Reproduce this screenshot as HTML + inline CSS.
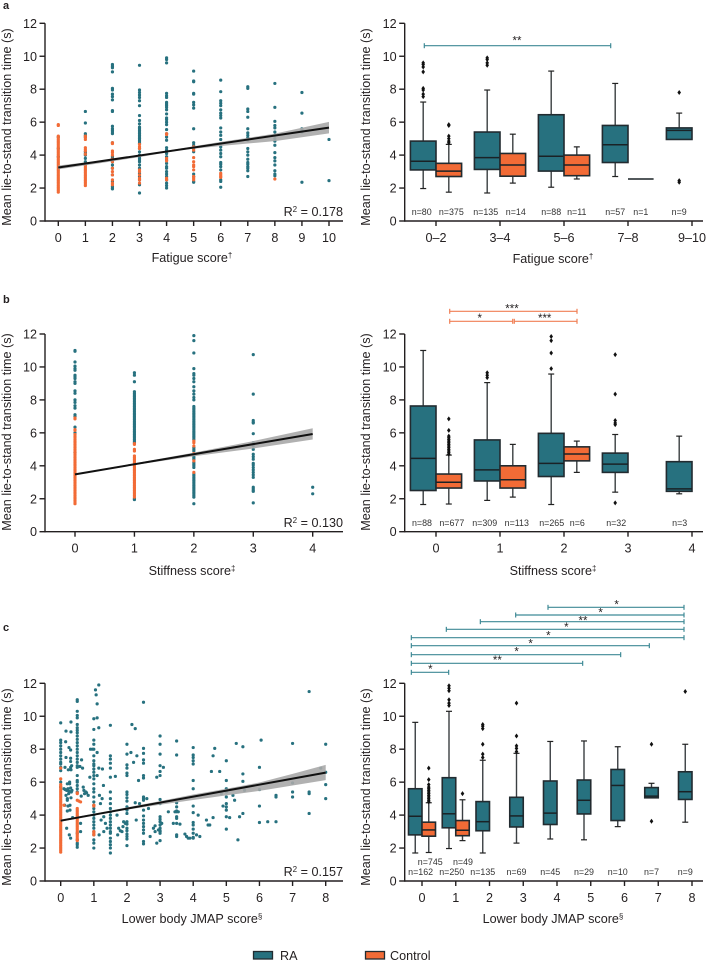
<!DOCTYPE html>
<html lang="en">
<head>
<meta charset="utf-8">
<title>Lie-to-stand transition time charts</title>
<style>
html,body{margin:0;padding:0;background:#fff;}
svg{display:block;}
text{font-family:"Liberation Sans",Arial,sans-serif;fill:#231f20;}
.tick{font-size:12.6px;}
.title{font-size:12.6px;}
.nlab{font-size:8.9px;fill:#333;}
.star{font-size:11.5px;}
.letter{font-size:11px;font-weight:bold;}
</style>
</head>
<body>
<svg id="chart" width="706" height="961" viewBox="0 0 706 961" xmlns="http://www.w3.org/2000/svg">
  <text class="letter" x="3" y="9">a</text>
  <text class="letter" x="3" y="303">b</text>
  <text class="letter" x="3" y="631">c</text>

  <text class="title" text-anchor="middle" transform="translate(11,127) rotate(-90)">Mean lie-to-stand transition time (s)</text>
  <text class="title" text-anchor="middle" transform="translate(370,127) rotate(-90)">Mean lie-to-stand transition time (s)</text>
  <text class="title" text-anchor="middle" transform="translate(11,432) rotate(-90)">Mean lie-to-stand transition time (s)</text>
  <text class="title" text-anchor="middle" transform="translate(370,432) rotate(-90)">Mean lie-to-stand transition time (s)</text>
  <text class="title" text-anchor="middle" transform="translate(11,787) rotate(-90)">Mean lie-to-stand transition time (s)</text>
  <text class="title" text-anchor="middle" transform="translate(370,787) rotate(-90)">Mean lie-to-stand transition time (s)</text>

  <text class="title" text-anchor="middle" x="192" y="262">Fatigue score<tspan font-size="8" dy="-4">†</tspan></text>
  <text class="title" text-anchor="middle" x="553" y="263">Fatigue score<tspan font-size="8" dy="-4">†</tspan></text>
  <text class="title" text-anchor="middle" x="192" y="575">Stiffness score<tspan font-size="8" dy="-4">‡</tspan></text>
  <text class="title" text-anchor="middle" x="553" y="575">Stiffness score<tspan font-size="8" dy="-4">‡</tspan></text>
  <text class="title" text-anchor="middle" x="192" y="923">Lower body JMAP score<tspan font-size="8" dy="-4">§</tspan></text>
  <text class="title" text-anchor="middle" x="553" y="923">Lower body JMAP score<tspan font-size="8" dy="-4">§</tspan></text>

  <text class="tick" text-anchor="end" x="343" y="216">R<tspan font-size="8" dy="-4">2</tspan><tspan dy="4"> = 0.178</tspan></text>
  <text class="tick" text-anchor="end" x="343" y="527">R<tspan font-size="8" dy="-4">2</tspan><tspan dy="4"> = 0.130</tspan></text>
  <text class="tick" text-anchor="end" x="343" y="876">R<tspan font-size="8" dy="-4">2</tspan><tspan dy="4"> = 0.157</tspan></text>

  <g>
    <rect x="253.5" y="951.5" width="19" height="7.5" fill="#27717f" stroke="#222b30" stroke-width="1.3"/>
    <text class="tick" x="280" y="960">RA</text>
    <rect x="365.5" y="951.5" width="19" height="7.5" fill="#f26b36" stroke="#222b30" stroke-width="1.3"/>
    <text class="tick" x="390" y="960">Control</text>
  </g>
</svg>
<script>
// ---------- Panel a: scatter ----------
const aScores = [0,1,2,3,4,5,6,7,8,9,10];
const aScatterRA = [
  [5.1,4.4,3.9],
  [6.65,5.95,5.3,5.2,5.1,4.2,4.1,4.0,3.8,3.6,3.4],
  [9.5,9.4,9.3,9.05,8.05,7.95,7.7,7.55,7.35,6.7,6.65,5.75,5.6,5.5,5.4,5.3,4.75,3.9,3.8,3.6,3.4,3.2,2.8,2.4,2.1,2.0,1.95],
  [9.45,7.95,7.8,7.65,7.5,7.3,7.0,6.4,6.1,5.9,5.7,5.6,5.5,5.4,5.3,5.2,5.1,5.0,4.9,4.8,4.7,4.4,4.2,4.0,3.9,3.8,3.7,3.6,3.4,3.2,2.9,2.7,2.5,2.2,1.7],
  [9.9,9.8,9.6,7.75,7.6,7.5,7.2,7.1,7.0,6.9,6.75,6.5,6.25,6.15,6.0,5.85,5.55,5.3,5.1,4.9,4.45,4.3,4.1,3.9,3.7,3.5,3.3,3.2,3.0,2.85,2.7,2.5,2.3,2.15,2.0],
  [9.1,8.5,8.45,7.75,7.7,7.2,7.05,6.85,5.6,4.75,4.6,4.4,4.2,2.85,2.7,2.4,2.35],
  [8.55,7.85,7.3,7.15,7.0,6.75,6.55,6.4,6.25,5.65,5.4,5.2,4.95,4.7,4.5,4.3,4.1,3.9,3.55,3.45,3.3,3.1,2.5,2.4,2.05],
  [8.15,8.05,6.8,6.65,6.3,5.6,5.35,5.2,5.05,4.9,4.4,4.2,4.0,3.75,3.55,3.45,3.3,3.2,3.05,2.7],
  [8.35,6.9,6.05,5.8,5.65,5.4,5.2,5.0,4.85,4.6,4.15,3.85,3.65,3.4,3.05,2.85,2.75],
  [7.8,6.55,5.6,5.5,5.4,2.35],
  [4.95,2.45]
];
const aScatterControl = [
  [5.85,5.8,5.15,5.05,4.95,4.85,4.75,4.65,4.55,4.45,4.35,4.25,4.15,4.05,3.95,3.85,3.75,3.65,3.55,3.45,3.35,3.25,3.15,3.05,2.95,2.85,2.75,2.65,2.55,2.45,2.35,2.25,2.15,2.05,1.95,1.85,1.75],
  [5.15,5.05,4.95,4.45,4.35,4.25,4.05,3.35,3.25,3.15,3.05,2.95,2.85,2.75,2.65,2.55,2.45,2.35,2.25,2.15],
  [4.75,4.7,4.25,4.15,4.0,3.75,3.6,3.2,3.0,2.8,2.5,2.3,2.2],
  [4.65,4.5,4.4,3.1,3.0,2.8,2.6,2.5,2.3],
  [5.3,5.25,3.8,3.65,2.6,2.5],
  [4.5,4.3,3.85,3.6,3.4,3.3,3.1,2.7,2.6,2.5],
  [2.9,2.8,2.7,2.65],
  [],
  [2.55],
  [],
  []
];
const aFitX = [0,10];
const aFitY = [3.25,5.67];
const aBandX = [0,1.5,3,4.5,6,8,10];
const aBandLow = [3.13,3.5,3.88,4.3,4.55,4.85,5.32];
const aBandHigh = [3.37,3.65,3.98,4.4,4.8,5.3,6.02];

// ---------- Panel a: box plot ----------
const aGroups = ['0–2','3–4','5–6','7–8','9–10'];
const aBoxRA = [[1.97,3.1,3.63,4.85,7.22],[1.7,3.13,3.85,5.4,7.95],[2.05,3.03,3.93,6.45,9.1],[2.7,3.55,4.63,5.8,8.35],[4.95,4.95,5.5,5.65,6.55]];
const aBoxRAOut = [[7.55,7.7,7.95,8.05,9.05,9.35,9.5,9.6],[9.45,9.6,9.8,9.9],[],[],[7.8,2.45,2.35]];
const aBoxControl = [[1.75,2.7,3.03,3.5,4.65],[2.3,2.72,3.4,4.1,5.27],[2.55,2.75,3.4,4.0,4.5],[2.55,2.55,2.55,2.55,2.55],null];
const aBoxControlOut = [[4.75,4.85,5.0,5.15,5.8,5.85],[],[],[],[]];
const aCountsRA = ['n=80','n=135','n=88','n=57','n=9'];
const aCountsControl = ['n=375','n=14','n=11','n=1',''];

// ---------- Panel b: scatter ----------
const bScores = [0,1,2,3,4];
const bScatterRA = [
  [11,10.95,10.3,10.05,9.9,9.8,9.5,9.4,9.3,9.1,9.0,8.55,8.4,8.0,7.85,7.65,7.5,7.1,7.0,6.35,6.0,4.8],
  [9.65,9.5,9.1,8.5,8.4,8.3,8.2,8.1,8.0,7.9,7.8,7.7,7.6,7.5,7.4,7.3,7.2,7.1,7.0,6.9,6.8,6.7,6.6,6.5,6.4,6.3,6.2,6.1,6.0,5.9,5.8,5.7,5.6,5.5,5.4,2.0,1.95],
  [11.9,11.6,10.85,9.9,9.6,9.5,9.3,9.1,8.8,8.55,8.35,8.15,8.0,7.6,7.5,7.4,7.3,7.2,7.1,7.0,6.9,6.8,6.7,6.6,6.5,6.4,6.3,6.2,6.1,6.0,5.9,5.8,5.7,5.6,5.1,5.0,4.9,4.6,4.5,4.4,4.2,4.1,4.0,3.9,3.5,3.4,3.3,3.2,3.1,3.0,2.9,2.8,2.7,2.6,2.5,2.4,2.3,2.2,2.1,1.7],
  [10.75,8.35,6.75,6.65,6.6,5.95,5.4,5.2,5.0,4.7,4.55,4.4,4.15,4.05,3.9,3.75,3.6,3.45,3.3,2.7,2.6,2.5,2.45,1.75],
  [2.7,2.3]
];
const bScatterControl = [
  [6.9,6.85,6.2,6.15,5.9,5.8,5.7,5.6,5.5,5.4,5.3,5.2,5.1,5.0,4.9,4.8,4.7,4.6,4.5,4.4,4.3,4.2,4.1,4.0,3.9,3.8,3.7,3.6,3.5,3.4,3.3,3.2,3.1,3.0,2.9,2.8,2.7,2.6,2.5,2.4,2.3,2.2,2.1,2.0,1.9,1.8,1.7],
  [5.35,5.3,5.0,4.9,4.6,4.5,4.4,4.3,4.2,4.1,4.0,3.9,3.8,3.7,3.6,3.5,3.4,3.3,3.2,3.1,3.0,2.9,2.8,2.7,2.6,2.5,2.4,2.3,2.2,2.1],
  [5.5,5.4,5.2,4.75,4.3,3.6],
  [],
  []
];
const bFitX = [0,4];
const bFitY = [3.48,5.93];
const bBandX = [0,1,2,3,4];
const bBandLow = [3.44,4.05,4.58,5.05,5.6];
const bBandHigh = [3.52,4.15,4.8,5.5,6.28];

// ---------- Panel b: box plot ----------
const bGroups = ['0','1','2','3','4'];
const bBoxRA = [[1.65,2.5,4.45,7.63,11.0],[1.9,3.08,3.75,5.57,9.05],[1.65,3.35,4.15,5.97,9.57],[2.4,3.6,4.1,4.77,5.9],[2.3,2.45,2.6,4.25,5.8]];
const bBoxRAOut = [[],[9.35,9.5,9.65],[9.9,10.85,11.6,11.85],[1.75,6.5,6.6,6.75,8.35,10.75],[]];
const bBoxControl = [[1.68,2.65,3.0,3.5,4.65],[2.1,2.65,3.15,4.0,5.3],[3.6,4.3,4.72,5.15,5.5],null,null];
const bBoxControlOut = [[4.7,4.8,4.9,5.0,5.1,5.2,5.3,5.4,5.5,5.6,5.7,5.8,6.15,6.85],[],[],[],[]];
const bCountsRA = ['n=88','n=309','n=265','n=32','n=3'];
const bCountsControl = ['n=677','n=113','n=6','',''];

// ---------- Panel c: scatter ----------
const cColumnScores = [0,0.5,1,1.5,2,2.5,3,3.5,4,5,5.5,6,6.5,7,7.5,8];
const cColumnRA = [
  [9.6,8.55,8.4,8.2,8.0,7.8,7.6,7.4,7.2,7.1,6.9,6.7,6.0,5.7],
  [11,10.9,10.3,10.05,9.9,9.5,9.3,9.15,9.0,8.8,8.6,8.4,8.2,8,7.8,7.6,7.4,7.2,7,6.9,6.4,6.1,6.0,5.8,5.6,5.4,2.9,2.5,2.3,2.2,2.05],
  [9.85,9.2,8.55,8.3,8.0,7.6,7.3,7.1,7.0,6.8,6.6,6.4,6.2,5.9,5.6,5.4,5.1,4.8,4.6,4.4,4.2,4.0,3.8,3.6,3.4,3.2,3.0,2.8,2.5,2.3,2.0],
  [9.45,7.6,7.4,7.15,6.85,6.3,5.4,5.0,4.7,4.4,4.2,4.0,3.8,3.6,3.4,3.2,3.0,2.9,2.6,2.4,2.2,2.0,1.7],
  [8.3,7.7,7.05,6.85,6.55,6.4,5.4,5.25,5.05,4.85,4.5,4.3,4.1,3.6,3.45,3.2,3.05,2.85,2.7,2.55,2.15],
  [10.85,8.05,7.75,7.35,7.15,6.4,6.25,5.1,5.0,4.9,4.3,3.95,3.7,3.5,3.3,3.1,2.9,2.4,2.25],
  [8.8,8.3,7.7,7,6.65,6.4,4.95,4.7,3.9,3.75,3.6,3.4,3.2,3.05,3.0,2.9,2.45],
  [8.5,7.65,4.75,4.5,4.25,4.2,3.9,3.8,3.5,2.8,2.7],
  [8.1,7.65,7.5,7.3,7.1,6.1,5.6,4.55,4.15,3.55,3.4,3.15,2.9,2.65,2.6],
  [7.3,6.1,5.6,5.4,5.1,4.7,4.5,4.3,3.9,3.15],
  [8.15,6.5,6.05,4.1],
  [6.9,5.55,4.55,3.55],
  [5.2,5.1,3.6],
  [8.35,5.95,5.4,5.1],
  [11.5,5.4,5.3,4.1],
  [8.3,6.6,5.85,5.0]
];
const cFreeX = [0.15,0.16,0.31,0.31,0.25,0.3,0.16,0.3,0.3,0.23,0.31,0.13,0.33,0.58,0.66,0.63,0.68,0.76,0.83,0.88,0.9,0.96,1.07,1.05,1.15,1.1,1.1,1.15,1.1,1.15,1.26,1.1,1.29,1.17,
  0.1,0.14,0.18,0.2,0.22,0.25,0.27,0.3,0.32,0.34,0.16,0.2,0.24,0.28,0.31,0.12,0.18,0.26,0.3,0.36,0.2,0.28,0.6,0.7,0.62,0.72,0.78,0.3,0.27,0.2,0.22,0.6,
  1.2,1.25,1.3,1.35,1.4,1.22,1.3,1.16,1.65,1.75,1.7,1.8,1.85,1.9,1.95,1.72,1.88,2.15,2.25,2.3,2.12,2.35,2.2,2.38,2.25,2.28,2.6,2.65,2.7,2.8,2.85,2.9,2.9,2.95,2.85,3.1,3.05,3.25,3.4,3.45,3.55,3.6,3.75,3.8,3.85,3.9,4.1,4.15,4.2,4.4,4.45,4.5,4.6,4.65,4.55,4.6,4.8,4.85,4.9,5.1,5.2,5.25,5.3,5.4,5.35,5.55,6.05,6.25,7.85];
const cFreeY = [8.45,9.1,9.65,9.05,8.1,7.95,7.5,7.45,7.25,6.75,6.75,6.9,7.0,6.95,6.85,7.35,5.7,5.4,5.2,6.3,8.0,8.0,11.3,11.6,11.9,10.75,9.9,9.3,7.8,6.85,6.8,6.4,5.8,5.2,
  5.6,5.55,5.5,5.9,5.6,5.45,5.9,5.65,5.4,5.5,5.2,4.9,5.3,4.6,5.05,4.6,3.2,2.8,2.6,3.85,4.25,4.3,3.5,5.5,5.15,5.3,5.35,6.9,6.0,5.0,4.55,3.0,
  4.7,5.0,3.9,3.5,3.2,3.7,3.0,2.8,6.35,3.2,4.0,3.05,3.0,3.6,3.5,2.8,3.3,9.5,9.25,7.6,7.8,6.1,7.2,4.7,4.75,3.7,5.0,4.4,2.7,3.2,3.35,6.3,2.3,3.1,3.0,6.9,3.5,4.2,3.5,4.2,4.2,3.45,2.85,2.7,2.6,2.6,2.8,4.0,2.7,3.7,3.4,3.4,7.6,8.05,6.65,3.85,6.65,5.3,4.55,3.85,5.2,4.9,8.35,3.9,2.5,5.5,8.55,3.6,6.85,3.3,3.55];
const cControlColumnScores = [0,0.5,1,1.5];
const cColumnControl = [
  [6.85,6.2,5.85,5.75,5.65,5.55,5.45,5.35,5.25,5.15,5.05,4.95,4.85,4.75,4.65,4.55,4.45,4.35,4.25,4.15,4.05,3.95,3.85,3.75,3.65,3.55,3.45,3.35,3.25,3.15,3.05,2.95,2.85,2.75,2.65,2.55,2.45,2.35,2.25,2.15,2.05,1.95,1.85,1.75],
  [5.35,5.3,4.9,4.4,4.3,4.2,4.1,4.0,3.9,3.8,3.7,3.6,3.5,3.4,3.3,3.2,3.1,3.0,2.9,2.8,2.7,2.6,2.5,2.45],
  [4.6,4.55,3.0,2.9,2.8],
  []
];
const cControlFreeX = [0.1,0.55,0.6];
const cControlFreeY = [4.6,4.85,4.8];
const cFitX = [0,8];
const cFitY = [3.66,6.58];
const cBandX = [0,1,2,3,4,5,6,7,8];
const cBandLow = [3.6,4.0,4.33,4.63,4.92,5.2,5.47,5.8,6.12];
const cBandHigh = [3.73,4.08,4.47,4.85,5.25,5.6,5.98,6.5,7.05];

// ---------- Panel c: box plot ----------
const cGroups = ['0','1','2','3','4','5','6','7','8'];
const cBoxRA = [[1.7,2.8,3.93,5.6,9.63],[1.97,3.23,4.08,6.27,10.3],[1.7,3.05,3.6,4.82,7.33],[2.3,3.28,3.95,5.08,7.75],[2.55,3.43,4.12,6.07,8.47],[2.5,4.07,4.9,6.13,8.5],[3.3,3.67,5.8,6.77,8.15],[5.05,5.05,5.15,5.67,5.93],[3.57,4.95,5.42,6.63,8.3]];
const cBoxRAOut = [[],[10.65,10.8,11,11.55,11.7,11.85],[7.5,7.7,8.3,9.25,9.4,9.5],[7.85,8.05,8.2,8.8,10.8],[],[],[],[3.63,8.3],[11.5]];
const cBoxControl = [[1.73,2.72,3.1,3.57,4.75],[2.45,2.75,3.08,3.67,4.93],null,null,null,null,null,null,null];
const cBoxControlOut = [[4.8,4.9,5.0,5.1,5.2,5.3,5.4,5.5,5.6,5.7,5.85,6.15,6.85],[5.3],[],[],[],[],[],[],[]];
const cCountsRA = ['n=162','n=250','n=135','n=69','n=45','n=29','n=10','n=7','n=9'];
const cCountsControl = ['n=745','n=49','','','','','','',''];

const TEAL = '#27717f';
const ORANGE = '#f26b36';
const INK = '#231f20';
const BOXLINE = '#222b30';
const NS = 'http://www.w3.org/2000/svg';
const root = document.getElementById('chart');

function mk(tag, attrs, parent, name) {
  const el = document.createElementNS(NS, tag);
  for (const k in attrs) el.setAttribute(k, attrs[k]);
  
  
  parent.appendChild(el);
  return el;
}
function scale(d0, d1, r0, r1) {
  return v => r0 + (v - d0) * (r1 - r0) / (d1 - d0);
}
function line(x1, y1, x2, y2, stroke, sw, parent, name) {
  return mk('line', {x1, y1, x2, y2, stroke, 'stroke-width': sw}, parent, name);
}
function drawAxes(g, f) {
  line(f.left, f.top, f.left, f.bottom + 0.7, INK, 1.4, g, 'y-axis-line');
  line(f.left, f.bottom, f.right, f.bottom, INK, 1.4, g, 'x-axis-line');
  [0,2,4,6,8,10,12].forEach(v => {
    line(f.left - 5.5, f.y(v), f.left, f.y(v), INK, 1.4, g, 'y-tick');
    const t = mk('text', {class: 'tick', x: f.left - 8, y: f.y(v) + 4.5, 'text-anchor': 'end'}, g, 'y-tick-label');
    t.textContent = v;
  });
  f.xTicks.forEach((v, i) => {
    line(f.x(v), f.bottom, f.x(v), f.bottom + 5, INK, 1.4, g, 'x-tick');
    const t = mk('text', {class: 'tick', x: f.x(v), y: f.bottom + 21, 'text-anchor': 'middle'}, g, 'x-tick-label');
    t.textContent = f.xLabels[i];
  });
}
function drawFit(g, x, y, bandX, low, high, fitX, fitY) {
  const up = bandX.map((v, i) => x(v) + ',' + y(high[i]));
  const dn = bandX.map((v, i) => x(v) + ',' + y(low[i])).reverse();
  mk('polygon', {points: up.concat(dn).join(' '), fill: '#a9a9a9', opacity: 0.9}, g, 'confidence-band');
  line(x(fitX[0]), y(fitY[0]), x(fitX[1]), y(fitY[1]), '#111', 2, g, 'regression-line');
}
function dot(g, cx, cy, fill, name) {
  mk('circle', {cx, cy, r: 1.6, fill}, g, name);
}
function drawColumns(g, x, y, scores, cols, fill, name) {
  cols.forEach((vals, i) => vals.forEach(v => dot(g, x(scores[i]), y(v), fill, name)));
}
function diamond(g, cx, cy) {
  const pts = [[cx, cy - 2.5], [cx + 1.8, cy], [cx, cy + 2.5], [cx - 1.8, cy]].map(p => p.join(',')).join(' ');
  mk('polygon', {points: pts, fill: '#111'}, g, 'outlier');
}
function drawBox(g, cx, w, y, s, fill, name) {
  const bg = mk('g', {}, g, name);
  if (s[0] < s[1]) {
    line(cx, y(s[0]), cx, y(s[1]), '#3a3f42', 1.4, bg, 'lower-whisker');
    line(cx - 3, y(s[0]), cx + 3, y(s[0]), '#222', 1.2, bg, 'lower-cap');
  }
  if (s[4] > s[3]) {
    line(cx, y(s[3]), cx, y(s[4]), '#3a3f42', 1.4, bg, 'upper-whisker');
    line(cx - 3, y(s[4]), cx + 3, y(s[4]), '#222', 1.2, bg, 'upper-cap');
  }
  mk('rect', {x: cx - w / 2, y: y(s[3]), width: w, height: Math.max(0, y(s[1]) - y(s[3])), fill, stroke: BOXLINE, 'stroke-width': 1.6}, bg, 'interquartile-box');
  line(cx - w / 2, y(s[2]), cx + w / 2, y(s[2]), '#1a2226', 1.5, bg, 'median-line');
}
function drawBoxPanel(g, f, ra, raOut, ctl, ctlOut) {
  const w = f.step * 0.4;
  ra.forEach((s, i) => {
    const cx = f.x(i) - f.step * 0.2;
    drawBox(g, cx, w, f.y, s, TEAL, 'box-ra');
    raOut[i].forEach(v => diamond(g, cx, f.y(v)));
    if (ctl[i]) {
      const c2 = f.x(i) + f.step * 0.2;
      drawBox(g, c2, w, f.y, ctl[i], ORANGE, 'box-control');
      ctlOut[i].forEach(v => diamond(g, c2, f.y(v)));
    }
  });
}
function drawCounts(g, f, labels, offset, nudge, py, name) {
  labels.forEach((s, i) => {
    if (!s) return;
    const t = mk('text', {class: 'nlab', x: f.x(i) + offset * f.step + (nudge[i] || 0), y: py, 'text-anchor': 'middle'}, g, name);
    t.textContent = s;
  });
}
function bracket(g, x1, x2, y, color, sx, sy, stars) {
  const b = mk('g', {}, g, 'significance-bracket');
  line(x1, y, x2, y, color, 1.2, b, 'bracket-line');
  line(x1, y - 2.5, x1, y + 2.5, color, 1.2, b, 'bracket-end');
  line(x2, y - 2.5, x2, y + 2.5, color, 1.2, b, 'bracket-end');
  const t = mk('text', {class: 'star', x: sx, y: sy, 'text-anchor': 'middle'}, b, 'significance-stars');
  t.textContent = stars;
}

// ---- Panel a scatter ----
(function () {
  const g = mk('g', {}, root, 'scatter-a');
  const x = scale(0, 10, 58.3, 329), y = scale(0, 12, 221, 23.3);
  drawColumns(g, x, y, aScores, aScatterRA, TEAL, 'point-ra');
  drawColumns(g, x, y, aScores, aScatterControl, ORANGE, 'point-control');
  drawFit(g, x, y, aBandX, aBandLow, aBandHigh, aFitX, aFitY);
  drawAxes(g, {left: 45, right: 343, top: 23.3, bottom: 221, x, y, xTicks: aScores, xLabels: aScores});
})();
// ---- Panel a box ----
(function () {
  const g = mk('g', {}, root, 'boxplot-a');
  const x = scale(0, 4, 436, 692), y = scale(0, 12, 221, 23.3);
  const f = {left: 404.7, right: 703, top: 23.3, bottom: 221, x, y, step: 64, xTicks: [0,1,2,3,4], xLabels: aGroups};
  drawBoxPanel(g, f, aBoxRA, aBoxRAOut, aBoxControl, aBoxControlOut);
  drawAxes(g, f);
  drawCounts(g, f, aCountsRA, -0.2, [-1.5,-1.5,0,0,0], 215, 'count-ra');
  drawCounts(g, f, aCountsControl, 0.2, [2.5,3,0,0,0], 215, 'count-control');
  bracket(g, 424.3, 610.7, 45.7, '#3f8a96', 517, 44.5, '**');
})();
// ---- Panel b scatter ----
(function () {
  const g = mk('g', {}, root, 'scatter-b');
  const x = scale(0, 4, 75, 312.7), y = scale(0, 12, 531.7, 334);
  drawColumns(g, x, y, bScores, bScatterRA, TEAL, 'point-ra');
  drawColumns(g, x, y, bScores, bScatterControl, ORANGE, 'point-control');
  drawFit(g, x, y, bBandX, bBandLow, bBandHigh, bFitX, bFitY);
  drawAxes(g, {left: 45, right: 343, top: 334, bottom: 531.7, x, y, xTicks: bScores, xLabels: bScores});
})();
// ---- Panel b box ----
(function () {
  const g = mk('g', {}, root, 'boxplot-b');
  const x = scale(0, 4, 436, 692), y = scale(0, 12, 531.7, 334);
  const f = {left: 404.7, right: 703, top: 334, bottom: 531.7, x, y, step: 64, xTicks: [0,1,2,3,4], xLabels: bGroups};
  drawBoxPanel(g, f, bBoxRA, bBoxRAOut, bBoxControl, bBoxControlOut);
  drawAxes(g, f);
  drawCounts(g, f, bCountsRA, -0.2, [-1.2,-2.5,0.5,1,0.5], 526, 'count-ra');
  drawCounts(g, f, bCountsControl, 0.2, [3,4,0.5,0,0], 526, 'count-control');
  bracket(g, 449.7, 577, 311.3, '#f07f55', 512, 312.5, '***');
  bracket(g, 449.7, 512.7, 321.3, '#f07f55', 479.7, 322, '*');
  bracket(g, 514.3, 577, 321.3, '#f07f55', 544.7, 322, '***');
})();
// ---- Panel c scatter ----
(function () {
  const g = mk('g', {}, root, 'scatter-c');
  const x = scale(0, 8, 60.7, 325.7), y = scale(0, 12, 881, 683.3);
  drawColumns(g, x, y, cColumnScores, cColumnRA, TEAL, 'point-ra');
  cFreeX.forEach((v, i) => dot(g, x(v), y(cFreeY[i]), TEAL, 'point-ra'));
  drawColumns(g, x, y, cControlColumnScores, cColumnControl, ORANGE, 'point-control');
  cControlFreeX.forEach((v, i) => dot(g, x(v), y(cControlFreeY[i]), ORANGE, 'point-control'));
  drawFit(g, x, y, cBandX, cBandLow, cBandHigh, cFitX, cFitY);
  drawAxes(g, {left: 45, right: 343, top: 683.3, bottom: 881, x, y, xTicks: [0,1,2,3,4,5,6,7,8], xLabels: [0,1,2,3,4,5,6,7,8]});
})();
// ---- Panel c box ----
(function () {
  const g = mk('g', {}, root, 'boxplot-c');
  const x = scale(0, 8, 422, 692), y = scale(0, 12, 881, 683.3);
  const f = {left: 404.7, right: 703, top: 683.3, bottom: 881, x, y, step: 33.75, xTicks: [0,1,2,3,4,5,6,7,8], xLabels: cGroups};
  drawBoxPanel(g, f, cBoxRA, cBoxRAOut, cBoxControl, cBoxControlOut);
  drawAxes(g, f);
  drawCounts(g, f, cCountsRA, -0.2, [5.4,2.7,0,0,0,0,0,0,0], 875, 'count-ra');
  drawCounts(g, f, cCountsControl, 0.2, [1.5,0.5], 865, 'count-control');
  const C = '#3f8a96';
  const X = v => 353 + v / 3, Y = v => 590 + v / 3;
  bracket(g, X(585), X(993), Y(52), C, X(791), Y(37) + 6, '*');
  bracket(g, X(488), X(993), Y(75), C, X(743), Y(62) + 6, '*');
  bracket(g, X(382), X(993), Y(95), C, X(690), Y(86) + 6, '**');
  bracket(g, X(280), X(993), Y(118), C, X(640), Y(105) + 6, '*');
  bracket(g, X(175), X(993), Y(143), C, X(586), Y(130) + 6, '*');
  bracket(g, X(175), X(889), Y(167), C, X(533), Y(154) + 6, '*');
  bracket(g, X(175), X(803), Y(194), C, X(491), Y(179) + 6, '*');
  bracket(g, X(175), X(689), Y(220), C, X(433), Y(204) + 6, '**');
  bracket(g, X(175), X(287), Y(247), C, X(232), Y(231) + 6, '*');
})();
</script>
</body>
</html>
